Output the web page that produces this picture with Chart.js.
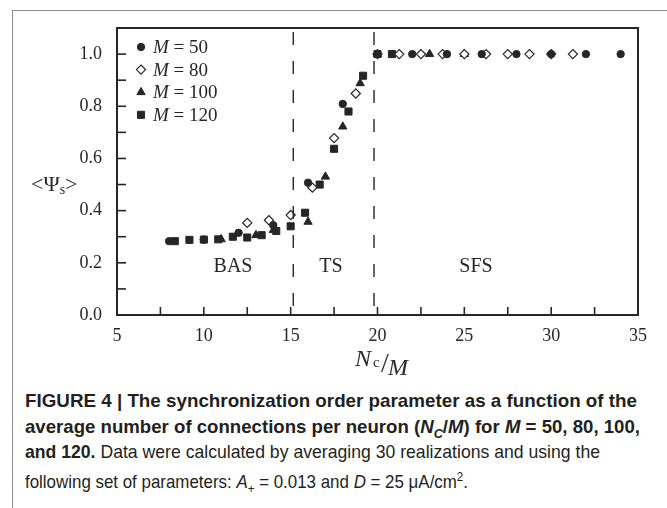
<!DOCTYPE html>
<html><head><meta charset="utf-8">
<script src="https://cdn.jsdelivr.net/npm/chart.js@4"></script>
<style>
html,body{margin:0;padding:0;background:#fff;}
#wrap{position:relative;width:667px;height:508px;overflow:hidden;background:#fff;}
#frame{position:absolute;left:12px;top:10px;width:660px;height:520px;border-left:1.5px solid #8a8a8a;border-top:1.5px solid #8a8a8a;}
#c{position:absolute;left:0;top:0;}
.cap{position:absolute;left:25px;white-space:nowrap;font-family:"Liberation Sans",Arial,sans-serif;font-size:19px;line-height:25px;color:#231f20;transform-origin:0 50%;}
#ylab{position:absolute;left:31px;top:171px;font-family:"Liberation Serif",serif;font-size:22px;color:#2b2b2b;}
#ylab sub{font-size:14px;vertical-align:-3px;}
#xlab{position:absolute;left:355px;top:343px;width:70px;height:40px;font-family:"Liberation Serif",serif;color:#2b2b2b;}
#xlab span{position:absolute;}
</style></head>
<body>
<div id="wrap">
<div id="frame"></div>
<canvas id="c" width="667" height="380"></canvas>
<div id="ylab">&lt;Ψ<sub>s</sub>&gt;</div>
<div id="xlab"><span style="left:0;top:2px;font-size:24px;font-style:italic;">N</span><span style="left:18px;top:11px;font-size:15px;">c</span><span style="left:26px;top:4px;font-size:28px;">/</span><span style="left:33px;top:11px;font-size:24px;font-style:italic;">M</span></div>
<div class="cap" id="l1" style="top:388px;font-weight:bold;">FIGURE 4 | The synchronization order parameter as a function of the</div>
<div class="cap" id="l2" style="top:414px;font-weight:bold;">average number of connections per neuron (<i>N<sub style="font-size:13px">C</sub></i>/<i>M</i>) for <i>M</i> = 50, 80, 100,</div>
<div class="cap" id="l3" style="top:439px;"><b>and 120.</b> Data were calculated by averaging 30 realizations and using the</div>
<div class="cap" id="l4" style="top:464px;">following set of parameters: <i>A</i><sub style="font-size:13px">+</sub> = 0.013 and <i>D</i> = 25 μA/cm<sup style="font-size:13px">2</sup>.</div>
</div>
<script>
// ---- data ----
const xTickLabels = ['5','10','15','20','25','30','35'];
const yTickLabels = ['0.0','0.2','0.4','0.6','0.8','1.0'];
const seriesNames = ['50','80','100','120'];
const m50X = [8,10,12,14,16,18,20,22,24,26,28,30,32,34];
const m50Y = [0.283,0.289,0.315,0.344,0.507,0.809,1,1,1,1,1,1,1,1];
const m80X = [12.5,13.75,15,16.25,17.5,18.75,20,21.25,22.5,23.75,25,26.25,27.5,28.75,30,31.25];
const m80Y = [0.353,0.363,0.383,0.488,0.678,0.849,1,1,1,1,1,1,1,1,1,1];
const m100X = [11,13,14,16,17,18,19,20,23,25];
const m100Y = [0.29,0.306,0.325,0.357,0.53,0.722,0.888,1,1,1];
const m120X = [8.33,9.17,10,10.83,11.67,12.5,13.33,14.17,15,15.83,16.67,17.5,18.33,19.17,20,20.83];
const m120Y = [0.283,0.288,0.289,0.29,0.3,0.297,0.306,0.322,0.34,0.392,0.5,0.637,0.78,0.917,1,1];
const regionNames = ['BAS','TS','SFS'];
const regionX = [11.68,17.32,25.67];
const regionY = [0.184,0.184,0.184];
const boundaryX = [15.15,19.8];

// ---- caption fit ----
const capW = {l1:612,l2:615,l3:575,l4:443};
for (const id in capW){const el=document.getElementById(id);const w=el.getBoundingClientRect().width;el.style.transform='scaleX('+(capW[id]/w)+')';}

const INK='#262626';
function pts(xs,ys){return xs.map((v,i)=>({x:v,y:ys[i]}));}
const styles=[
 {pointStyle:'circle',pointRadius:3.7,backgroundColor:INK,borderColor:INK,borderWidth:1},
 {pointStyle:'rectRot',pointRadius:4.6,backgroundColor:'#fff',borderColor:INK,borderWidth:1.2},
 {pointStyle:'triangle',pointRadius:4.8,backgroundColor:INK,borderColor:INK,borderWidth:1},
 {pointStyle:'rect',pointRadius:5,backgroundColor:INK,borderColor:INK,borderWidth:1}
];
const allX=[m50X,m80X,m100X,m120X], allY=[m50Y,m80Y,m100Y,m120Y];
const datasets=seriesNames.map((n,i)=>Object.assign({label:'M = '+n,data:pts(allX[i],allY[i]),showLine:false,pointHoverRadius:styles[i].pointRadius},styles[i]));

function drawMarker(ctx,style,cx,cy){
  ctx.save();
  ctx.fillStyle=style.backgroundColor;ctx.strokeStyle=style.borderColor;ctx.lineWidth=style.borderWidth;
  const r=style.pointRadius;ctx.beginPath();
  if(style.pointStyle==='circle'){ctx.arc(cx,cy,r,0,Math.PI*2);}
  else if(style.pointStyle==='rectRot'){ctx.moveTo(cx-r,cy);ctx.lineTo(cx,cy-r);ctx.lineTo(cx+r,cy);ctx.lineTo(cx,cy+r);ctx.closePath();}
  else if(style.pointStyle==='triangle'){const w=r*Math.sin(Math.PI*2/3);ctx.moveTo(cx,cy-r);ctx.lineTo(cx+w,cy+r/2);ctx.lineTo(cx-w,cy+r/2);ctx.closePath();}
  else {const s=r*Math.SQRT1_2;ctx.rect(cx-s,cy-s,2*s,2*s);}
  ctx.fill();ctx.stroke();ctx.restore();
}

const decor={
  id:'decor',
  afterDatasetsDraw(chart){
    const {ctx,chartArea:a,scales:{x,y}}=chart;
    ctx.save();
    ctx.strokeStyle=INK;ctx.lineWidth=2;
    ctx.strokeRect(a.left,a.top,a.right-a.left,a.bottom-a.top);
    ctx.lineWidth=1.6;
    for(const t of x.ticks){const px=x.getPixelForValue(t.value);ctx.beginPath();ctx.moveTo(px,a.bottom);ctx.lineTo(px,a.bottom-8);ctx.stroke();}
    for(const t of y.ticks){if(t.value>1.05)continue;const py=y.getPixelForValue(t.value);ctx.beginPath();ctx.moveTo(a.left,py);ctx.lineTo(a.left+9,py);ctx.stroke();}
    ctx.setLineDash([13,16]);ctx.lineWidth=1.4;
    for(const b of boundaryX){const px=x.getPixelForValue(b);ctx.beginPath();ctx.moveTo(px,a.top+4);ctx.lineTo(px,a.bottom);ctx.stroke();}
    ctx.setLineDash([]);
    ctx.fillStyle=INK;ctx.font='20px "Liberation Serif"';ctx.textAlign='center';ctx.textBaseline='middle';
    regionNames.forEach((n,i)=>ctx.fillText(n,x.getPixelForValue(regionX[i]),y.getPixelForValue(regionY[i])));
    // legend
    ctx.textAlign='left';
    seriesNames.forEach((n,i)=>{
      const cy=a.top+19+i*22.6, cx=a.left+24;
      drawMarker(ctx,styles[i],cx,cy);
      ctx.font='italic 19px "Liberation Serif"';ctx.fillText('M',cx+12,cy+1);
      const w=ctx.measureText('M').width;
      ctx.font='19px "Liberation Serif"';ctx.fillText(' = '+n,cx+12+w,cy+1);
    });
    ctx.restore();
  }
};

new Chart(document.getElementById('c'),{
  type:'scatter',
  data:{datasets},
  options:{
    responsive:false,animation:false,
    layout:{padding:{top:28,right:29,left:0,bottom:0}},
    plugins:{legend:{display:false},tooltip:{enabled:false}},
    scales:{
      x:{type:'linear',min:5,max:35,
        grid:{display:false},border:{display:true,color:INK,width:2},
        ticks:{stepSize:2.5,padding:2,color:INK,font:{family:'Liberation Serif',size:18},maxRotation:0,autoSkip:false,
          callback:(v)=>{const k=(v-5)/5;return Number.isInteger(k)?xTickLabels[k]:'';}},
        afterFit:(s)=>{s.height=65;}},
      y:{type:'linear',min:0,max:1.1,
        grid:{display:false},border:{display:true,color:INK,width:2},
        ticks:{stepSize:0.1,padding:7,color:INK,font:{family:'Liberation Serif',size:18},autoSkip:false,
          callback:(v)=>{const k=Math.round(v*10);return (k%2===0&&k<=10)?yTickLabels[k/2]:'';}},
        afterFit:(s)=>{s.width=117;}}
    }
  },
  plugins:[decor]
});
</script>
</body></html>
